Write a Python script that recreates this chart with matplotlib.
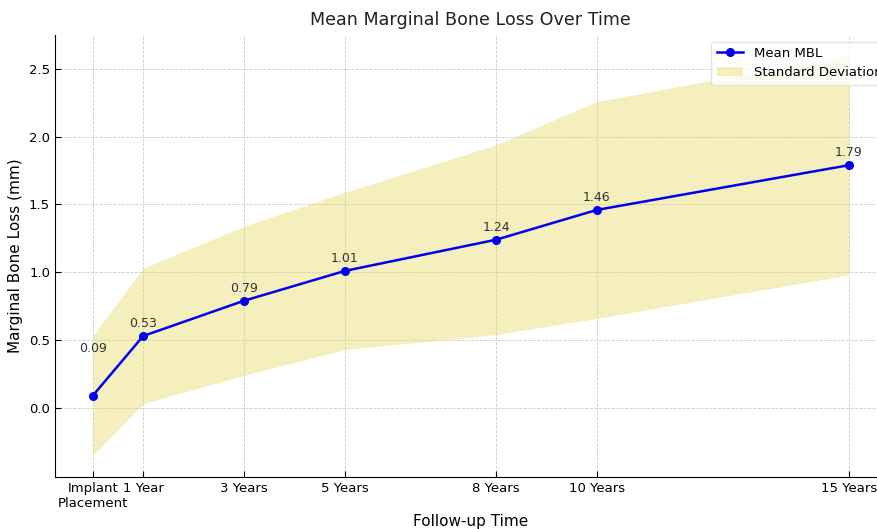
import numpy as np
import matplotlib
matplotlib.use("Agg")
import matplotlib.pyplot as plt

# data
years = [0, 1, 3, 5, 8, 10, 15]
tick_labels = ["Implant\nPlacement", "1 Year", "3 Years", "5 Years",
               "8 Years", "10 Years", "15 Years"]
mean_mbl = [0.09, 0.53, 0.79, 1.01, 1.24, 1.46, 1.79]
std_mbl = [0.44, 0.50, 0.55, 0.58, 0.70, 0.80, 0.81]

mean_arr = np.array(mean_mbl)
std_arr = np.array(std_mbl)

fig = plt.figure(figsize=(8.77, 5.29), dpi=100)
ax = fig.add_axes([0.0627, 0.0983, 1.011 - 0.0627, 0.9338 - 0.0983])

ax.plot(years, mean_mbl, color="#0000ee", marker="o", markersize=5.5,
        linewidth=1.8, label="Mean MBL", zorder=3)
ax.fill_between(years, mean_arr - std_arr, mean_arr + std_arr,
                color="#e6d85a", alpha=0.4, linewidth=0,
                label="Standard Deviation", zorder=1)

for i, (x, y) in enumerate(zip(years, mean_mbl)):
    dy = 34 if i == 0 else 9
    ax.annotate(f"{y:.2f}", (x, y), xytext=(0, dy), textcoords="offset points",
                ha="center", va="center", fontsize=9, color="#333333")

ax.set_xticks(years)
ax.set_xticklabels(tick_labels)
ax.set_yticks([0.0, 0.5, 1.0, 1.5, 2.0, 2.5])
ax.set_xlim(-0.75, 15.75)
ax.set_ylim(-0.51, 2.75)

ax.set_title("Mean Marginal Bone Loss Over Time", fontsize=12.6, color="#222222", pad=7)
ax.set_xlabel("Follow-up Time", fontsize=11, labelpad=3)
ax.set_ylabel("Marginal Bone Loss (mm)", fontsize=11)

ax.tick_params(direction="in", labelsize=9.5, length=4)
ax.grid(True, linestyle="--", linewidth=0.6, color="#cccccc", zorder=0)
ax.set_axisbelow(True)
for s in ["top", "right"]:
    ax.spines[s].set_visible(False)

ax.legend(loc="upper right", bbox_to_anchor=(1.009, 1.0), fontsize=9.5,
          frameon=True, framealpha=0.8, edgecolor="#dddddd")

fig.savefig("out.png", dpi=100)
